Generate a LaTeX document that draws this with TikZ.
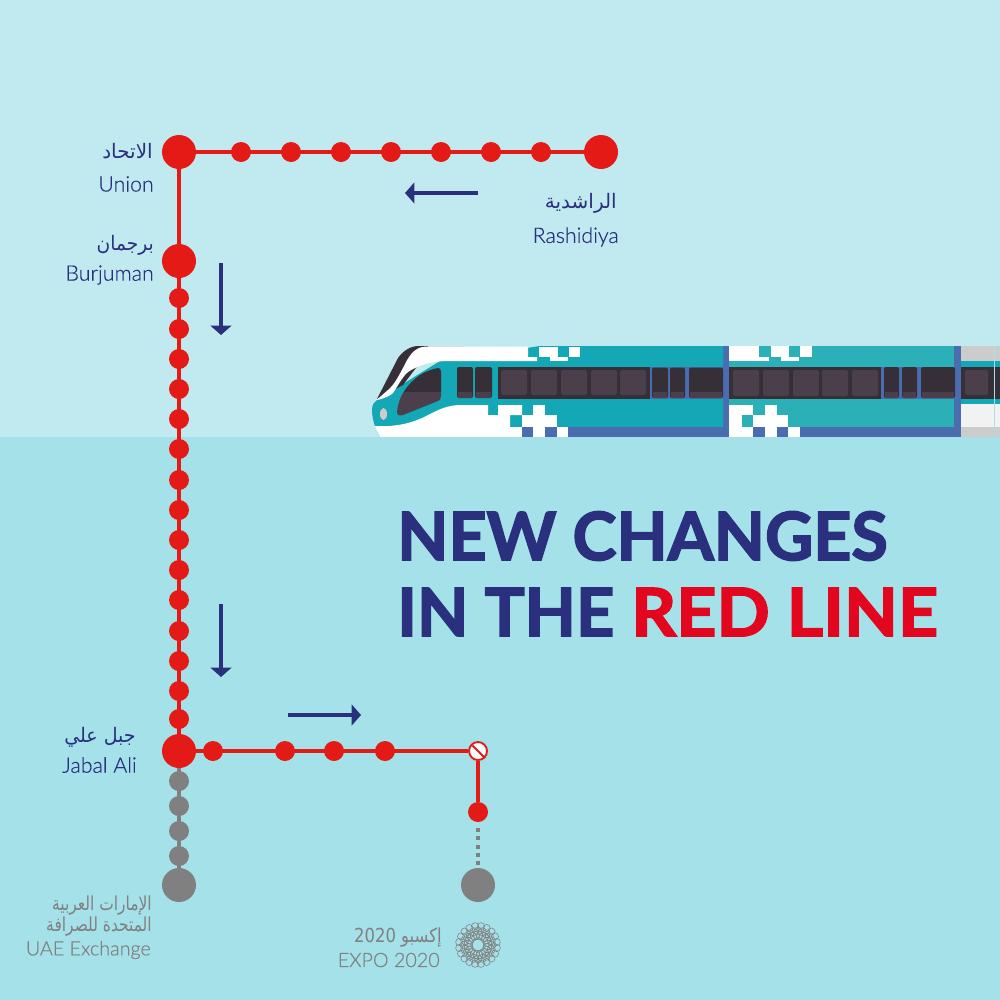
\documentclass[tikz,border=0pt]{standalone}
\usepackage{fontspec}
\setmainfont{Lato}
\newfontfamily\arabicfont[Script=Arabic]{DejaVu Sans}
\newfontfamily\latinfont[FakeBold=0.35]{Lato Light}
\newfontfamily\titlefont[FakeBold=2.4]{Lato Bold}
\TeXXeTstate=1
\usetikzlibrary{arrows.meta}
\definecolor{bgtop}{HTML}{C1EAF0}
\definecolor{bgbot}{HTML}{A5E1E9}
\definecolor{linered}{HTML}{E41A16}
\definecolor{titlered}{HTML}{E2061E}
\definecolor{navy}{HTML}{2A307D}
\definecolor{stopgrey}{HTML}{808080}
\definecolor{teala}{HTML}{14A7B5}
\definecolor{tealb}{HTML}{2BB0B8}
\definecolor{bandblue}{HTML}{4A6DB0}
\definecolor{wdark}{HTML}{372F38}
\definecolor{wpane}{HTML}{4B3F4C}
\tikzset{
  x=0.75pt,y=-0.75pt,
  stop/.style={circle,inner sep=0pt,minimum size=15pt,fill=#1},
  bigstop/.style={circle,inner sep=0pt,minimum size=25.5pt,fill=#1},
  rail/.style={line width=2.4pt,draw=#1},
  dirarrow/.style={draw=navy,line width=2.6pt,-{Triangle[length=7pt,width=15.5pt]}},
  en/.style={font=\latinfont\fontsize{16pt}{18pt}\selectfont,text=navy,anchor=east,inner sep=0pt},
  eng/.style={font=\latinfont\fontsize{14.8pt}{18pt}\selectfont,text=stopgrey,anchor=east,inner sep=0pt},
  ar/.style={font=\arabicfont\fontsize{15pt}{18pt}\selectfont,text=navy,anchor=east,inner sep=0pt},
  arg/.style={font=\arabicfont\fontsize{14.5pt}{18pt}\selectfont,text=stopgrey,anchor=east,inner sep=0pt},
  title/.style={font=\titlefont\fontsize{50pt}{50pt}\selectfont,anchor=west,inner sep=0pt},
  pane/.style={fill=wpane,rounded corners=1.2pt},
  door/.style={fill=wdark,rounded corners=1.5pt},
}
\begin{document}
\begin{tikzpicture}
\useasboundingbox (0,0) rectangle (1000,1000);
\fill[bgtop] (0,0) rectangle (1000,437);
\fill[bgbot] (0,437) rectangle (1000,1000);

% ---------- train ----------
% third car
\fill[gray!40] (961,346) rectangle (1000,437);
\fill[teala] (961,361) rectangle (1000,404);
\fill[wdark] (961,367) rectangle (1000,399);
\fill[pane] (965,370) rectangle (988,395);
\fill[white!90!gray] (961,404) rectangle (1000,427);
\draw[bgbot,line width=0.5pt] (994,346) -- (994,437);
% second car
\fill[tealb] (729,346) rectangle (954,427);
\fill[bandblue] (729,427) rectangle (954,437);
\fill[bandblue] (954,346) rectangle (961,437);
\fill[wdark] (729,367) rectangle (881,399);
\foreach \a in {733,763,793,822,852} \fill[pane] (\a,370) rectangle ++(26,26);
\fill[bandblue] (881,367) rectangle (955,399);
\foreach \a/\b in {884/899,902/917,921/955}{
  \fill[door] (\a,367) rectangle (\b,398);
  \fill[wpane] (\a+1,392) rectangle (\b-1,398);}
\fill[white] (729,346) rectangle (759,361);
\fill[white] (759,357) rectangle (769,361);
\fill[white] (771,346) rectangle (789,357);
\fill[white] (781,357) rectangle (799,361);
\fill[white] (800,346) rectangle (812,357);
\fill[white] (729,405) rectangle (753,415);
\fill[white] (765,405) rectangle (777,415);
\fill[white] (729,415) rectangle (742,437);
\fill[white] (753,415) rectangle (788,427);
\fill[white] (742,427) rectangle (753,437);
\fill[white] (765,427) rectangle (777,437);
\fill[white] (788,427) rectangle (800,437);
% blue joint
\fill[bandblue] (723,346) rectangle (729,437);
% first car body
\fill[teala] (372,410) .. controls (372,405) and (374,402) .. (377,400)
  -- (440,361) -- (540,346) -- (723,346) -- (723,427) -- (500,437) -- (380,437)
  .. controls (376,430) and (372,420) .. (372,410) -- cycle;
\fill[bandblue] (568,427) rectangle (723,437);
\fill[teala] (690,346) rectangle (723,427);
% dark stripe
\fill[wdark] (377,399) -- (398,358) .. controls (402,352) and (410,346) .. (418,346) -- (428,346) -- (428,352) -- (403,385) -- cycle;
\fill[white!60!gray] (428,346) rectangle (463,346.8);
% white top
\fill[white] (377,399.5) -- (388,390) .. controls (395,384) and (399,375) .. (403,368)
  .. controls (408,358) and (413,347) .. (426,346.5) -- (528,346.5) -- (528,357) -- (537,357) -- (537,361)
  -- (445,361) .. controls (432,362) and (420,364) .. (408,372)
  .. controls (401,378) and (396,390) .. (392,394) .. controls (388,397) and (382,399) .. (377,400) -- cycle;
\fill[white] (539,346.5) rectangle (558,357);
\fill[white] (550,357) rectangle (568,361);
\fill[white] (569,346.5) rectangle (580,357);
% white lower
\fill[white] (375,426) .. controls (385,426.5) and (392,426) .. (398,425)
  .. controls (408,423.5) and (415,421) .. (422,418) .. controls (432,413) and (438,410) .. (442,408.5)
  .. controls (450,405.5) and (456,405) .. (462,405) -- (488,405) -- (488,415) -- (498,415) -- (498,405)
  -- (522,405) -- (522,415) -- (510,415) -- (510,427) -- (522,427) -- (522,437) -- (380,437)
  .. controls (378,433) and (376,430) .. (375,426) -- cycle;
\fill[white] (533,405) rectangle (545,415);
\fill[white] (522,415) rectangle (557,427);
\fill[white] (533,427) rectangle (545,437);
\fill[white] (557,427) rectangle (568,437);
\fill[bandblue] (522,427) rectangle (533,437);
\fill[bandblue] (545,427) rectangle (557,437);
% windshield
\begin{scope}
\clip (397,412) .. controls (398,404) and (400,398) .. (403,393)
  .. controls (408,385) and (414,379) .. (420,375)
  .. controls (426,371) and (433,369) .. (438,368) .. controls (440,368) and (441,369) .. (441,372)
  -- (441,396) .. controls (441,399) and (440,400) .. (438,401)
  -- (403,415) .. controls (399,416) and (397,415) .. (397,412) -- cycle;
\fill[wdark] (390,360) rectangle (445,392);
\fill[wpane] (390,392) rectangle (445,420);
\end{scope}
\fill[gray!40] (383.5,414) ellipse [x radius=3.5,y radius=6];
% front doors
\foreach \a/\b in {457/473,475/492}{
  \fill[door] (\a,367) rectangle (\b,398);
  \fill[wpane] (\a+1,392) rectangle (\b-1,398);}
% window strip
\fill[wdark] (498,367) rectangle (650,399);
\foreach \a in {501,531,561,591,620} \fill[pane] (\a,370) rectangle ++(26,25);
\fill[bandblue] (650,367) rectangle (687,399);
\foreach \a/\b in {652/668,670/685}{
  \fill[door] (\a,367.5) rectangle (\b,398);
  \fill[wpane] (\a+1,392) rectangle (\b-1,398);}
\fill[bandblue] (687,367) rectangle (724,399);
\fill[door] (689,367.5) rectangle (723,398);
\fill[wpane] (690,392) rectangle (722,398);
% horizon cover
\fill[bgbot] (360,437) rectangle (1000,440);

% ---------- stations ----------
\foreach \n/\a/\b in {t1/241/152,t2/291/152,t3/341/152,t4/391/152,t5/441/152,t6/491/152,t7/541/152,
  v1/179/298,v2/179/329,v3/179/359,v4/179/389,v5/179/419,v6/179/449,v7/179/480,v8/179/510,v9/179/540,
  v10/179/570,v11/179/600,v12/179/631,v13/179/661,v14/179/691,v15/179/719,
  h1/213/751,h2/285/751,h3/334/751,h4/385/751,e1/478/812}
  \node[stop=linered] (\n) at (\a,\b) {};
\foreach \n/\a/\b in {g1/179/781,g2/179/806,g3/179/831,g4/179/856}
  \node[stop=stopgrey] (\n) at (\a,\b) {};
\node[bigstop=linered] (union) at (179,152) {};
\node[bigstop=linered] (rashidiya) at (601,152) {};
\node[bigstop=linered] (burjuman) at (179,261) {};
\node[bigstop=linered] (jabal) at (179,751) {};
\node[bigstop=stopgrey] (uae) at (179,885) {};
\node[bigstop=stopgrey] (expo) at (478,885) {};
\node[circle,inner sep=0pt,minimum size=13.5pt,draw=linered,line width=1.4pt,fill=white] (closed) at (478,751) {};
\draw[rail=linered] (union) -- (rashidiya);
\draw[rail=linered] (union) -- (burjuman);
\draw[rail=linered] (burjuman) -- (jabal);
\draw[rail=linered] (jabal) -- (closed);
\draw[rail=linered] (closed) -- (e1);
\draw[rail=stopgrey] (jabal) -- (uae);
\draw[stopgrey,line width=3pt,dash pattern=on 3pt off 3.1pt] (e1.south) ++(0,6) coordinate (ds) (ds) -- (expo.north);
\draw[linered,line width=1.5pt] (closed.north west) ++(1.5,1.5) coordinate (c1) (c1) -- (closed.south east);

% arrows
\coordinate (a1s) at (478,193); \coordinate (a1e) at (405,193);
\coordinate (a2s) at (221,263); \coordinate (a2e) at (221,335);
\coordinate (a3s) at (221,604); \coordinate (a3e) at (221,677);
\coordinate (a4s) at (288,715); \coordinate (a4e) at (361,715);
\draw[dirarrow] (a1s) -- (a1e);
\draw[dirarrow] (a2s) -- (a2e);
\draw[dirarrow] (a3s) -- (a3e);
\draw[dirarrow] (a4s) -- (a4e);

% labels
\node[ar] (l1a) at (153,151) {\beginR الاتحاد\endR};
\node[en] (l1e) at (154,184) {Union};
\node[ar] (l2a) at (154,245) {\scalebox{0.93}[1]{\beginR برجمان\endR}};
\node[en] (l2e) at (154,275) {Burjuman};
\node[ar] (l3a) at (617,203) {\beginR الراشدية\endR};
\node[en] (l3e) at (619,237) {Rashidiya};
\node[ar] (l4a) at (136,737) {\scalebox{0.95}[1]{\beginR جبل  علي\endR}};
\node[en] (l4e) at (137,765) {Jabal Ali};
\node[arg] (l5a) at (152,906) {\scalebox{0.8}[1]{\beginR الإمارات العربية\endR}};
\node[arg] (l5b) at (152,927) {\scalebox{0.8}[1]{\beginR المتحدة للصرافة\endR}};
\node[eng] (l5e) at (151,950) {UAE Exchange};
\node[arg] (l6a) at (442,938) {\scalebox{0.85}[1]{\beginR إكسبو \beginL 2020\endL\endR}};
\node[eng] (l6e) at (440,960) {EXPO 2020};

% logo
\foreach \r/\s/\c in {19/3.6/20,14/4/20,10/4.6/20}
  \foreach \i in {1,...,\c}
    \draw[stopgrey,line width=0.4pt] (478,945) ++({18*\i+9*\r}:\r) circle [radius=\s];

% title
\node[title,text=navy] (t1n) at (397,536) {\scalebox{0.996}[1]{NEW CHANGES}};
\node[title,text=navy] (t2n) at (397,612) {IN THE};
\node[title,text=titlered] (t3n) at (631,612) {\scalebox{1.05}[1]{RED LINE}};
\end{tikzpicture}
\end{document}
